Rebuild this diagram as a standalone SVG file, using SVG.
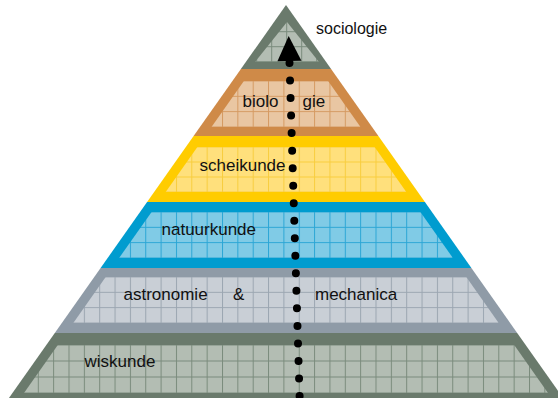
<svg xmlns="http://www.w3.org/2000/svg" width="558" height="398" viewBox="0 0 558 398">
<style>
.lbl{font-family:"Liberation Sans",Arial,sans-serif;font-size:17px;fill:#111}
.gl{stroke-width:1;fill:none}
</style>
<defs>
<pattern id="pSoc" patternUnits="userSpaceOnUse" x="271.2" y="46.2" width="15" height="15"><rect width="15" height="15" fill="#b3bdb3"/><path class="gl" stroke="#7a8b7c" d="M0.5 0V15M0 0.5H15"/></pattern>
<pattern id="pBio" patternUnits="userSpaceOnUse" x="7.1" y="80.5" width="15.35" height="15.333"><rect width="15.35" height="15.333" fill="#e9c6a2"/><path class="gl" stroke="#d59a62" d="M0.5 0V15.333M0 0.5H15.35"/></pattern>
<pattern id="pSch" patternUnits="userSpaceOnUse" x="7.1" y="146.5" width="15.35" height="15"><rect width="15.35" height="15" fill="#ffe07c"/><path class="gl" stroke="#f8cd3e" d="M0.5 0V15M0 0.5H15.35"/></pattern>
<pattern id="pNat" patternUnits="userSpaceOnUse" x="7.1" y="211.5" width="15.35" height="15.333"><rect width="15.35" height="15.333" fill="#80cbe6"/><path class="gl" stroke="#2ba6d5" d="M0.5 0V15.333M0 0.5H15.35"/></pattern>
<pattern id="pAst" patternUnits="userSpaceOnUse" x="7.1" y="276.5" width="15.35" height="15.333"><rect width="15.35" height="15.333" fill="#c9cfd6"/><path class="gl" stroke="#9ba6b1" d="M0.5 0V15.333M0 0.5H15.35"/></pattern>
<pattern id="pWis" patternUnits="userSpaceOnUse" x="7.1" y="344.5" width="15.35" height="16"><rect width="15.35" height="16" fill="#b3bdb3"/><path class="gl" stroke="#7a8b7c" d="M0.5 0V16M0 0.5H15.35"/></pattern>
<marker id="arrow" markerUnits="userSpaceOnUse" orient="auto" markerWidth="40" markerHeight="40" viewBox="-5 -20 40 40" refX="0" refY="0" overflow="visible"><path d="M2 -12L27 0L2 12Z" fill="#000"/></marker>
</defs>

<g id="wiskunde">
<polygon points="54.8,333 517.2,333 568,405 4,405" fill="#6a7a6c"/>
<polygon points="57.8,345 514.2,345 548,393 24,393" fill="url(#pWis)"/>
<text class="lbl" x="84.5" y="367">wiskunde</text>
</g>
<g id="astronomie-mechanica">
<polygon points="100.6,268 471.4,268 517.2,333 54.8,333" fill="#8f9ba7"/>
<polygon points="105.7,277 466.3,277 498.7,323 73.3,323" fill="url(#pAst)"/>
<text class="lbl" x="123.5" y="300">astronomie</text>
<text class="lbl" x="233" y="300">&amp;</text>
<text class="lbl" x="315" y="300">mechanica</text>
</g>
<g id="natuurkunde">
<polygon points="147.1,202 424.9,202 471.4,268 100.6,268" fill="#009ccf"/>
<polygon points="151.6,212 420.4,212 452.9,258 119.1,258" fill="url(#pNat)"/>
<text class="lbl" x="161.5" y="234.5">natuurkunde</text>
</g>
<g id="scheikunde">
<polygon points="193.6,136 378.4,136 424.9,202 147.1,202" fill="#ffcc00"/>
<polygon points="197.4,147 374.6,147 406.3,192 165.7,192" fill="url(#pSch)"/>
<text class="lbl" x="199.5" y="171">scheikunde</text>
</g>
<g id="biologie">
<polygon points="240.9,69 331.1,69 378.4,136 193.6,136" fill="#cf8a48"/>
<polygon points="243.9,81 328.1,81 360.5,127 211.5,127" fill="url(#pBio)"/>
<text class="lbl" x="242.5" y="106.5">biolo</text>
<text class="lbl" x="302.5" y="106.5">gie</text>
</g>
<g id="sociologie">
<polygon points="286,5 331.1,69 240.9,69" fill="#6a7a6c"/>
<polygon points="287,22 319,62 255,62" fill="url(#pSoc)"/>
<text class="lbl" x="316" y="34" style="font-size:16px">sociologie</text>
</g>

<g id="connectors">
<line x1="299.6" y1="396" x2="289.5" y2="63" stroke="#000" stroke-width="8" stroke-linecap="round" stroke-dasharray="0 17.534" marker-end="url(#arrow)"/>
</g>
</svg>
